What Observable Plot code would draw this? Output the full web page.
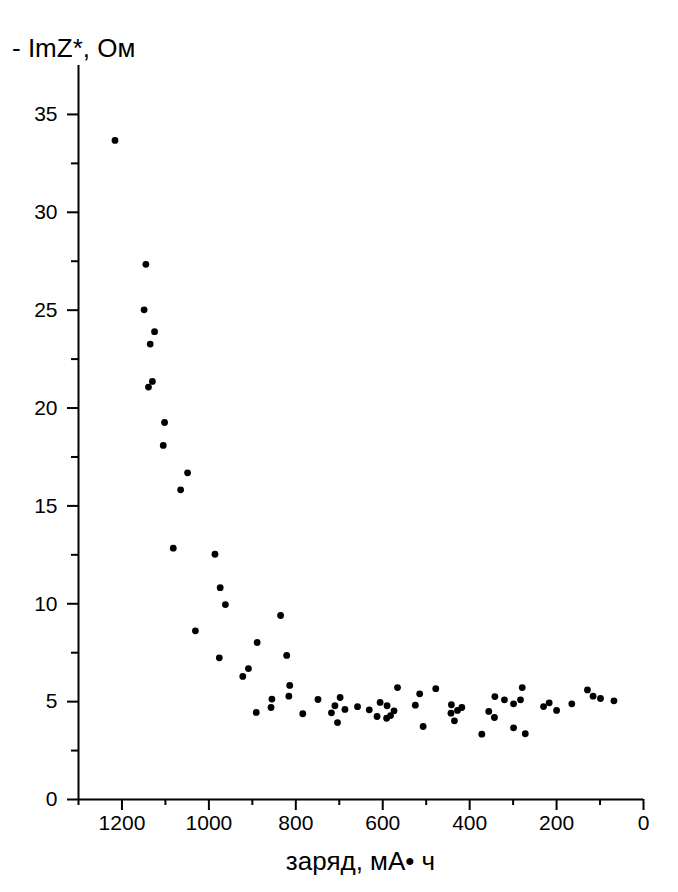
<!DOCTYPE html>
<html>
<head>
<meta charset="utf-8">
<script src="https://cdn.jsdelivr.net/npm/d3@7"></script>
<script src="https://cdn.jsdelivr.net/npm/@observablehq/plot@0.6"></script>
<style>
  body { margin: 0; background: #fff; font-family: "Liberation Sans", Arial, sans-serif; color: #000; }
  #ytitle { height: 60px; box-sizing: border-box; padding-top: 35px; padding-left: 12px;
            font-size: 26px; line-height: 26px; white-space: pre; }
  #chart { height: 785px; }
  #xtitle { width: 678px; height: 47px; box-sizing: border-box; padding: 3px 35px 0 78px;
            text-align: center; font-size: 26px; line-height: 26px; white-space: pre; }
</style>
</head>
<body>
<div id="ytitle">- ImZ*, Ом</div>
<div id="chart"></div>
<div id="xtitle"></div>
<script>
// charge, mA·h (x) and -ImZ*, Ohm (y)
const charge = [1216, 1145, 1149, 1125, 1135, 1130, 1139, 1102, 1105, 1049,
                1065, 1082, 986, 974, 962, 1031, 835, 889, 976, 821,
                909, 922, 814, 816, 855, 857, 891, 784, 749, 698,
                710, 687, 718, 704, 658, 631, 606, 590, 613, 591,
                582, 574, 566, 515, 525, 507, 478, 442, 443, 435,
                428, 418, 372, 342, 356, 343, 320, 299, 283, 279,
                299, 272, 230, 217, 200, 165, 129, 116, 99, 68];
const imz = [33.67, 27.34, 25.02, 23.9, 23.27, 21.36, 21.07, 19.26, 18.09, 16.69,
             15.82, 12.84, 12.53, 10.82, 9.96, 8.62, 9.40, 8.02, 7.24, 7.36,
             6.69, 6.29, 5.83, 5.28, 5.13, 4.70, 4.45, 4.38, 5.11, 5.21,
             4.79, 4.60, 4.43, 3.93, 4.74, 4.58, 4.96, 4.79, 4.24, 4.15,
             4.29, 4.53, 5.72, 5.40, 4.82, 3.73, 5.66, 4.84, 4.41, 4.02,
             4.55, 4.70, 3.34, 5.26, 4.50, 4.19, 5.09, 4.89, 5.09, 5.72,
             3.66, 3.36, 4.75, 4.94, 4.55, 4.89, 5.60, 5.28, 5.16, 5.04];

const xDomain = [1300, 0];
const yDomain = [0, 37.5];
const xMajor = [1200, 1000, 800, 600, 400, 200, 0];
const xMinor = [1300, 1100, 900, 700, 500, 300, 100];
const yMajor = [0, 5, 10, 15, 20, 25, 30, 35];
const yMinor = [2.5, 7.5, 12.5, 17.5, 22.5, 27.5, 32.5];
const xLabel = "заряд, мА• ч";

document.getElementById("xtitle").textContent = xLabel;

const points = charge.map((c, i) => ({charge: c, imz: imz[i]}));

const chart = Plot.plot({
  width: 678,
  height: 785,
  marginLeft: 78,
  marginRight: 35,
  marginTop: 5,
  marginBottom: 46,
  style: {fontFamily: "Liberation Sans, Arial, sans-serif", fontSize: "21px", color: "#000", background: "#fff"},
  x: {domain: xDomain, label: null},
  y: {domain: yDomain, label: null},
  marks: [
    Plot.axisX(xMinor, {tickSize: 6, strokeWidth: 2, tickFormat: () => "", label: null}),
    Plot.axisX(xMajor, {tickSize: 11, tickPadding: 5, strokeWidth: 2, tickFormat: d => String(d), label: null}),
    Plot.axisY(yMinor, {tickSize: 7, strokeWidth: 2, tickFormat: () => "", label: null}),
    Plot.axisY(yMajor, {tickSize: 11, tickPadding: 10, strokeWidth: 2, tickFormat: d => String(d), label: null}),
    Plot.ruleY([yDomain[0]], {stroke: "#000", strokeWidth: 2}),
    Plot.ruleX([xDomain[0]], {stroke: "#000", strokeWidth: 2}),
    Plot.dot(points, {x: "charge", y: "imz", r: 3.4, fill: "#000", stroke: "none"})
  ]
});
document.getElementById("chart").appendChild(chart);
</script>
</body>
</html>
